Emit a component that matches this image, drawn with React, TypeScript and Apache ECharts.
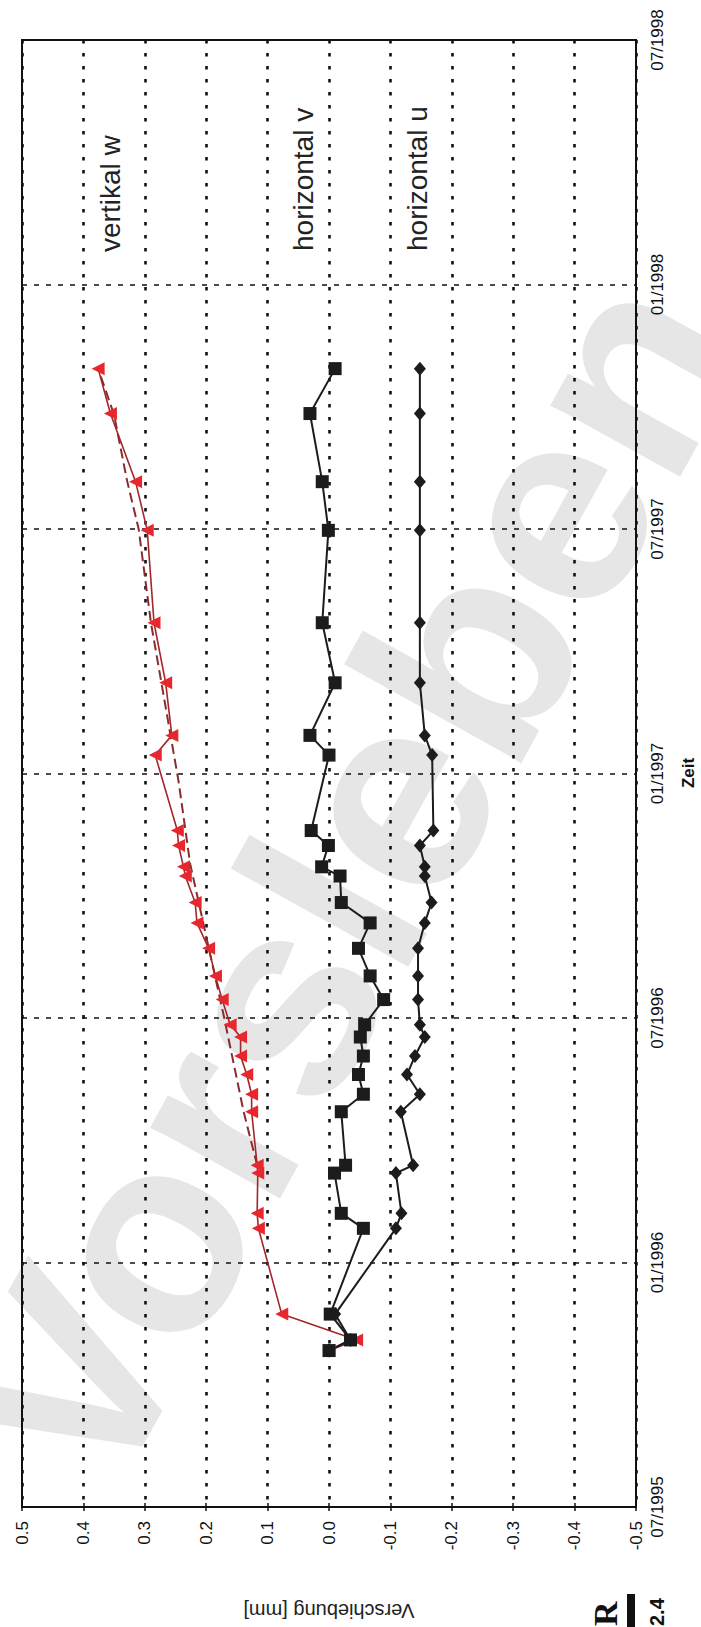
import React, { useEffect, useRef } from "react";
import * as echarts from "echarts";

const FONT = "'Liberation Sans', Arial, Helvetica, sans-serif";

// measurement dates (shared by the three marked series)
const epochDates = [
  "1995-10-27", "1995-11-04", "1995-11-23", "1996-01-27", "1996-02-07",
  "1996-03-07", "1996-03-13", "1996-04-22", "1996-05-05", "1996-05-20",
  "1996-06-03", "1996-06-17", "1996-06-26", "1996-07-15", "1996-08-02",
  "1996-08-23", "1996-09-11", "1996-09-26", "1996-10-16", "1996-10-23",
  "1996-11-08", "1996-11-19", "1997-01-15", "1997-01-30", "1997-03-08",
  "1997-04-22", "1997-06-30", "1997-08-06", "1997-09-26", "1997-10-30",
];

// Verschiebung [mm]
const vertikalW = [
  0.0, -0.045, 0.077, 0.115, 0.117, 0.116, 0.117, 0.126, 0.126, 0.134,
  0.144, 0.144, 0.161, 0.174, 0.185, 0.196, 0.215, 0.218, 0.234, 0.237,
  0.245, 0.247, 0.283, 0.256, 0.266, 0.285, 0.296, 0.315, 0.356, 0.376,
];
const horizontalV = [
  0.0, -0.035, -0.002, -0.056, -0.02, -0.009, -0.027, -0.02, -0.056, -0.048,
  -0.056, -0.051, -0.058, -0.089, -0.067, -0.048, -0.067, -0.02, -0.018, 0.012,
  0.001, 0.029, 0.0, 0.031, -0.01, 0.011, 0.001, 0.011, 0.031, -0.01,
];
const horizontalU = [
  0.0, -0.035, -0.01, -0.109, -0.118, -0.109, -0.137, -0.117, -0.148, -0.127,
  -0.14, -0.156, -0.148, -0.145, -0.145, -0.145, -0.156, -0.167, -0.156, -0.156,
  -0.148, -0.17, -0.168, -0.156, -0.148, -0.148, -0.148, -0.148, -0.148, -0.148,
];

// dashed (unmarked) vertical curve
const trendDates = [
  "1996-03-13", "1996-04-22", "1996-07-04", "1996-10-25", "1996-12-26",
  "1997-04-22", "1997-07-01", "1997-08-07", "1997-09-25", "1997-10-30",
];
const trendW = [0.117, 0.139, 0.172, 0.226, 0.245, 0.29, 0.31, 0.329, 0.35, 0.376];

// axes
const valueMin = -0.5;
const valueMax = 0.5;
const valueStep = 0.1;
const timeStart = "1995-07-01";
const timeEnd = "1998-07-01";
const timeStepMonths = 6;

const seriesNames = ["vertikal w", "horizontal v", "horizontal u"];

function toMonths(s: string): number {
  const [y, m, d] = s.split("-").map(Number);
  const dim = new Date(Date.UTC(y, m, 0)).getUTCDate();
  return (y - 1995) * 12 + (m - 7) + (d - 1) / dim;
}

function monthLabel(v: number): string {
  const total = 6 + Math.round(v);
  const year = 1995 + Math.floor(total / 12);
  const month = (total % 12) + 1;
  return (month < 10 ? "0" : "") + month + "/" + year;
}

function pairs(dates: string[], vals: number[]) {
  return dates.map((d, i) => [vals[i], toMonths(d)]);
}

export default function App() {
  const ref = useRef<HTMLDivElement>(null);

  useEffect(() => {
    if (!ref.current) return;
    const chart = echarts.init(ref.current, null, { renderer: "svg" });

    const axisText = { fontFamily: FONT, fontSize: 17, color: "#111" };

    const option: any = {
      animation: false,
      backgroundColor: "#fff",
      grid: {
        left: 22,
        right: 65,
        top: 40,
        bottom: 120,
        show: true,
        borderColor: "#111",
        borderWidth: 2,
        containLabel: false,
      },
      xAxis: [
        {
          type: "value",
          inverse: true,
          min: valueMin,
          max: valueMax,
          interval: valueStep,
          position: "bottom",
          axisLine: { show: true, onZero: false, lineStyle: { color: "#111", width: 2 } },
          axisTick: { show: true, length: 4, lineStyle: { color: "#111", width: 1.5 } },
          axisLabel: {
            ...axisText,
            rotate: 90,
            margin: 14,
            formatter: (v: number) => v.toFixed(1),
          },
          splitLine: {
            show: true,
            lineStyle: { color: "#111", width: 2.6, type: [3.5, 9.5] },
          },
        },
        {
          type: "value",
          inverse: true,
          min: valueMin,
          max: valueMax,
          interval: valueStep,
          position: "bottom",
          axisLine: { show: false, onZero: false },
          axisTick: { show: true, inside: true, length: 4, lineStyle: { color: "#111", width: 1.5 } },
          axisLabel: { show: false },
          splitLine: { show: false },
        },
      ],
      yAxis: {
        type: "value",
        min: 0,
        max: toMonths(timeEnd) - toMonths(timeStart),
        interval: timeStepMonths,
        position: "right",
        axisLine: { show: true, onZero: false, lineStyle: { color: "#111", width: 2 } },
        axisTick: { show: false },
        axisLabel: {
          ...axisText,
          rotate: 90,
          margin: 13,
          formatter: (v: number) => monthLabel(v),
        },
        splitLine: {
          show: true,
          lineStyle: { color: "#111", width: 1.7, type: [5, 7] },
        },
      },
      graphic: [
        {
          type: "text",
          silent: true,
          z: -5,
          x: 345,
          y: 880,
          rotation: (61 * Math.PI) / 180,
          style: {
            text: "Vorsleben",
            fontFamily: FONT,
            fontSize: 280,
            fontWeight: "bold",
            fill: "#e6e6e6",
            align: "center",
            verticalAlign: "middle",
          },
        },
        {
          type: "text",
          x: 110,
          y: 252,
          rotation: Math.PI / 2,
          style: { text: seriesNames[0], fontFamily: FONT, fontSize: 28, fill: "#222", align: "left", verticalAlign: "middle" },
        },
        {
          type: "text",
          x: 303,
          y: 251,
          rotation: Math.PI / 2,
          style: { text: seriesNames[1], fontFamily: FONT, fontSize: 28, fill: "#222", align: "left", verticalAlign: "middle" },
        },
        {
          type: "text",
          x: 417,
          y: 251,
          rotation: Math.PI / 2,
          style: { text: seriesNames[2], fontFamily: FONT, fontSize: 28, fill: "#222", align: "left", verticalAlign: "middle" },
        },
        {
          type: "text",
          x: 329,
          y: 1611,
          rotation: Math.PI,
          style: { text: "Verschiebung [mm]", fontFamily: FONT, fontSize: 20, fill: "#222", align: "center", verticalAlign: "middle" },
        },
        {
          type: "text",
          x: 688,
          y: 773,
          rotation: Math.PI / 2,
          style: { text: "Zeit", fontFamily: FONT, fontSize: 17, fontWeight: "bold", fill: "#111", align: "center", verticalAlign: "middle" },
        },
        {
          type: "text",
          x: 605,
          y: 1626,
          rotation: Math.PI / 2,
          style: { text: "R", fontFamily: "'Liberation Serif', serif", fontSize: 34, fontWeight: "bold", fill: "#111", align: "left", verticalAlign: "middle" },
        },
        {
          type: "rect",
          shape: { x: 627, y: 1594, width: 8, height: 40 },
          style: { fill: "#111" },
        },
        {
          type: "text",
          x: 657,
          y: 1626,
          rotation: Math.PI / 2,
          style: { text: "2.4", fontFamily: FONT, fontSize: 20, fontWeight: "bold", fill: "#111", align: "left", verticalAlign: "middle" },
        },
      ],
      series: [
        {
          name: seriesNames[0] + " (Trend)",
          type: "line",
          data: pairs(trendDates, trendW),
          showSymbol: false,
          symbol: "none",
          lineStyle: { color: "#8a2c2c", width: 2, type: [10, 5] },
          z: 3,
        },
        {
          name: seriesNames[0],
          type: "line",
          data: pairs(epochDates, vertikalW),
          symbol: "triangle",
          symbolSize: 13,
          symbolRotate: 90,
          itemStyle: { color: "#e8262e" },
          lineStyle: { color: "#a3262a", width: 1.6 },
          z: 4,
        },
        {
          name: seriesNames[1],
          type: "line",
          data: pairs(epochDates, horizontalV),
          symbol: "rect",
          symbolSize: 13,
          itemStyle: { color: "#1c1c1c" },
          lineStyle: { color: "#1c1c1c", width: 2 },
          z: 4,
        },
        {
          name: seriesNames[2],
          type: "line",
          data: pairs(epochDates, horizontalU),
          symbol: "diamond",
          symbolSize: [12, 14],
          itemStyle: { color: "#1c1c1c" },
          lineStyle: { color: "#1c1c1c", width: 2 },
          z: 4,
        },
      ],
    };

    chart.setOption(option);
    return () => chart.dispose();
  }, []);

  return (
    <div
      ref={ref}
      style={{ position: "absolute", left: 0, top: 0, width: 701, height: 1627 }}
    />
  );
}
